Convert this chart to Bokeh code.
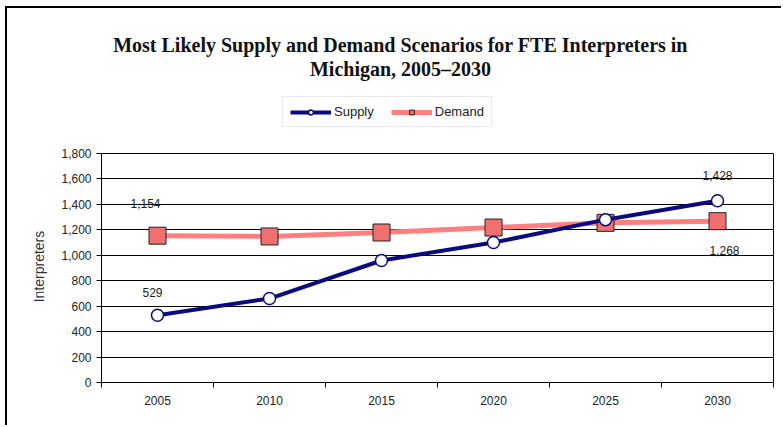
from bokeh.plotting import figure
from bokeh.models import (ColumnDataSource, FixedTicker, Range1d, Legend, LegendItem,
                          Label, NumeralTickFormatter, LinearAxis)
from bokeh.core.properties import value
from bokeh.embed import file_html
from bokeh.resources import INLINE

years = [2005, 2010, 2015, 2020, 2025, 2030]
supply = [529, 660, 959, 1100, 1280, 1428]
demand = [1154, 1148, 1179, 1218, 1255, 1268]
y_ticks = [0, 200, 400, 600, 800, 1000, 1200, 1400, 1600, 1800]
x_bounds = [2002.5, 2007.5, 2012.5, 2017.5, 2022.5, 2027.5, 2032.5]
title_lines = ["Most Likely Supply and Demand Scenarios for FTE Interpreters in",
               "Michigan, 2005\u20132030"]
y_label = "Interpreters"

# which points carry a data label: (series, index)
label_points = [("demand", 0), ("supply", 0), ("supply", 5), ("demand", 5)]
label_dx = [-12, -5, 0, 7]
label_dy = [-32, -23, -25, 29]

# layout (pixels)
FIG_W, FIG_H = 776, 419
B_LEFT, B_RIGHT, B_TOP, B_BOTTOM = 94, 10, 2, 45
FRAME_W = FIG_W - B_LEFT - B_RIGHT
FRAME_H = FIG_H - B_TOP - B_BOTTOM
CHART_H = 229  # pixel height of the 0..1800 chart area
Y_MAX = y_ticks[-1] * FRAME_H / CHART_H
# the axis label is centred on the whole frame; pad it so it sits on the chart area
LABEL_PAD = "\u00a0" * 36

p = figure(width=FIG_W, height=FIG_H, output_backend="svg", toolbar_location=None,
           x_range=Range1d(x_bounds[0], x_bounds[-1]), y_range=Range1d(0, Y_MAX),
           min_border_left=B_LEFT, min_border_right=B_RIGHT, min_border_top=B_TOP,
           min_border_bottom=B_BOTTOM)
p.styles = {"border-top": "2px solid #000", "border-left": "2px solid #000",
            "margin-left": "5px", "margin-top": "6px"}

p.outline_line_color = None
p.xgrid.grid_line_color = None
p.ygrid.grid_line_color = "#000"
p.ygrid.grid_line_width = 1
p.ygrid.ticker = FixedTicker(ticks=y_ticks)
p.ygrid.bounds = (x_bounds[0], x_bounds[-1])

p.yaxis.ticker = FixedTicker(ticks=y_ticks)
p.yaxis.bounds = (y_ticks[0], y_ticks[-1])
p.yaxis.formatter = NumeralTickFormatter(format="0,0")
p.yaxis.axis_label = y_label + LABEL_PAD
p.yaxis.axis_label_text_font = "Liberation Sans"
p.yaxis.axis_label_text_font_style = "normal"
p.yaxis.axis_label_text_font_size = "14px"
p.yaxis.axis_label_text_color = "#333"
p.yaxis.axis_label_standoff = 11
p.yaxis.major_tick_out = 5
p.yaxis.major_tick_in = 0
p.yaxis.minor_tick_out = 0
p.yaxis.minor_tick_in = 0

right = LinearAxis(bounds=(y_ticks[0], y_ticks[-1]), ticker=FixedTicker(ticks=[]),
                   major_label_text_font_size="0px", axis_line_color="#000",
                   major_tick_out=0, minor_tick_out=0)
p.add_layout(right, "right")

p.xaxis.ticker = FixedTicker(ticks=years, minor_ticks=x_bounds)
p.xaxis.major_tick_out = 0
p.xaxis.major_tick_in = 0
p.xaxis.minor_tick_out = 5
p.xaxis.minor_tick_in = 0
p.xaxis.major_label_standoff = 8

for ax in (p.xaxis[0], p.yaxis[0]):
    ax.axis_line_color = "#000"
    ax.major_tick_line_color = "#000"
    ax.minor_tick_line_color = "#000"
    ax.major_label_text_font = "Liberation Sans"
    ax.major_label_text_font_size = "12px"
    ax.major_label_text_color = "#222"

src = ColumnDataSource(dict(year=years, supply=supply, demand=demand))

d_line = p.line("year", "demand", source=src, line_color="#ff7f7f", line_width=5)
d_pts = p.scatter("year", "demand", source=src, marker="square", size=17,
                  fill_color="#f07070", line_color="#222", line_width=1)
s_line = p.line("year", "supply", source=src, line_color="#0b0b80", line_width=4)
s_pts = p.scatter("year", "supply", source=src, marker="circle", size=12,
                  fill_color="white", line_color="#0b0b80", line_width=1.5)

series = {"supply": supply, "demand": demand}
lx, ly, lt = [], [], []
for name, i in label_points:
    lx.append(years[i])
    ly.append(series[name][i])
    lt.append(f"{series[name][i]:,}")
lsrc = ColumnDataSource(dict(x=lx, y=ly, t=lt, dx=label_dx, dy=label_dy))
p.text("x", "y", text="t", source=lsrc, x_offset="dx", y_offset="dy",
       text_align="center", text_baseline="middle",
       text_font=value("Liberation Sans"), text_font_size="12px", text_color="#222")

legend = Legend(items=[LegendItem(label="Supply", renderers=[s_line, s_pts]),
                       LegendItem(label="Demand", renderers=[d_line, d_pts])],
                orientation="horizontal", location=(181, CHART_H + 26),
                border_line_color="#d4d4d4", border_line_width=1,
                background_fill_color="white",
                label_text_font="Liberation Sans", label_text_font_size="13px",
                label_text_color="#222", glyph_width=41, glyph_height=12,
                label_standoff=3, spacing=17, padding=7, margin=0,
                label_height=12)
p.add_layout(legend, "center")

for k, line in enumerate(title_lines):
    p.add_layout(Label(x=299, y=CHART_H + 109 - 24 * k,
                       x_units="screen", y_units="screen", text=line,
                       text_align="center", text_baseline="middle",
                       text_font="Liberation Serif", text_font_style="bold",
                       text_font_size="20px", text_color="#111"))

open("out.html", "w").write(file_html(p, INLINE))
